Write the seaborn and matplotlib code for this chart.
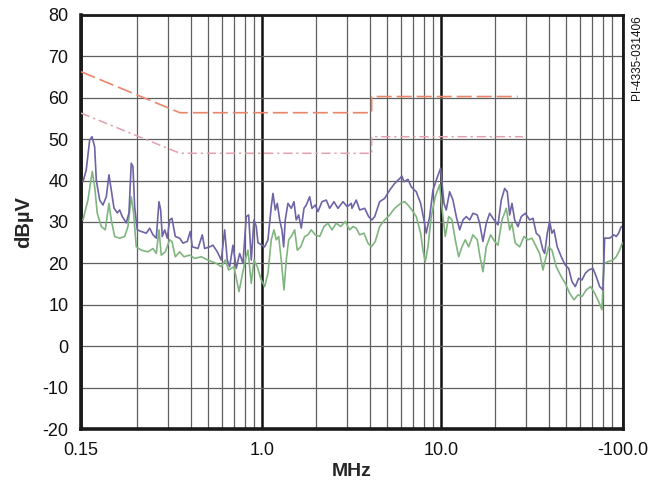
import numpy as np
import pandas as pd
import matplotlib
matplotlib.use("Agg")
import matplotlib.pyplot as plt
import seaborn as sns
from matplotlib.ticker import FixedLocator, NullFormatter

# ---------------- data ----------------
x_min, x_max = 0.0975, 104.0
x_tick_pos = [0.0975, 1.0, 10.0, 104.0]
x_tick_labels = ["0.15", "1.0", "10.0", "-100.0"]
y_ticks = [-20, -10, 0, 10, 20, 30, 40, 50, 60, 70, 80]

# limit lines (MHz, dBuV)
qp_f = [0.0975, 0.348, 4.10, 4.10, 26.9]
qp_db = [66.3, 56.4, 56.4, 60.3, 60.3]
av_f = [0.0975, 0.348, 4.10, 4.10, 28.7]
av_db = [56.3, 46.6, 46.6, 50.6, 50.6]

# peak (purple) trace
purple_f = [0.100, 0.1043, 0.1090, 0.1123, 0.1162, 0.1187, 0.1240, 0.1293, 0.1350, 0.1397,
            0.1439, 0.1490, 0.1554, 0.1603, 0.1658, 0.1745, 0.1807, 0.1861, 0.1902, 0.1944,
            0.2011, 0.2117, 0.2258, 0.2359, 0.2461, 0.2567, 0.2658, 0.2717, 0.2773, 0.2861,
            0.2958, 0.3051, 0.3142, 0.3279, 0.3469, 0.3620, 0.3826, 0.3976, 0.4080, 0.4390,
            0.4640, 0.4785, 0.5103, 0.5325, 0.5628, 0.5924, 0.6190, 0.6399, 0.6600, 0.6887,
            0.7185, 0.7506, 0.7832, 0.8172, 0.8426, 0.8714, 0.9022, 0.9293, 0.9499, 0.9910,
            1.0354, 1.080, 1.127, 1.152, 1.187, 1.218, 1.256, 1.293, 1.322, 1.349,
            1.397, 1.458, 1.509, 1.554, 1.603, 1.658, 1.717, 1.768, 1.847, 1.902,
            1.986, 2.055, 2.164, 2.287, 2.389, 2.525, 2.658, 2.835, 2.996, 3.154,
            3.183, 3.364, 3.515, 3.748, 3.945, 4.117, 4.263, 4.545, 4.848, 5.169,
            5.511, 5.878, 6.054, 6.212, 6.539, 6.824, 7.278, 7.701, 8.035, 8.277,
            8.647, 9.022, 9.413, 9.961, 10.39, 10.70, 11.18, 11.67, 12.18, 12.72,
            13.27, 13.85, 14.47, 15.10, 15.95, 16.45, 17.16, 17.91, 18.71, 19.52,
            20.82, 21.73, 22.70, 23.47, 24.20, 24.93, 25.81, 26.93, 28.09, 29.58,
            31.30, 32.66, 34.07, 35.60, 37.14, 37.96, 39.26, 40.49, 41.70, 42.79,
            44.64, 46.99, 49.48, 51.69, 53.94, 56.27, 58.80, 61.36, 64.02, 66.88,
            70.69, 73.75, 77.02, 80.35, 82.13, 87.59, 92.58, 95.35, 98.33, 101.7]
purple_db = [39.7, 42.6, 49.8, 50.6, 48.2, 40.1, 35.3, 34.1, 36.1, 41.4,
             37.7, 33.4, 32.2, 32.9, 31.3, 29.8, 32.2, 44.2, 43.4, 33.7,
             28.1, 27.7, 27.3, 28.5, 26.9, 26.1, 34.9, 32.9, 26.5, 28.1,
             26.1, 30.5, 30.9, 26.5, 26.1, 24.9, 25.3, 27.7, 24.0, 23.6,
             26.9, 23.6, 24.0, 24.4, 22.8, 20.8, 28.1, 20.8, 19.2, 24.4,
             18.8, 22.4, 20.0, 31.3, 31.7, 20.8, 30.5, 28.9, 25.0, 24.5,
             24.0, 25.7, 33.7, 36.9, 32.9, 34.5, 30.5, 28.1, 24.0, 30.5,
             34.5, 33.3, 34.9, 30.5, 31.7, 28.5, 33.3, 34.1, 36.1, 33.3,
             34.1, 32.5, 34.9, 35.3, 33.3, 34.9, 33.3, 34.9, 33.7, 34.5,
             33.3, 35.3, 32.9, 33.3, 31.3, 30.5, 31.3, 34.9, 35.7, 37.7,
             39.3, 40.5, 41.1, 39.7, 40.3, 38.5, 37.3, 34.5, 30.5, 27.3,
             31.3, 37.7, 40.1, 43.0, 34.5, 32.9, 37.3, 35.3, 31.3, 28.1,
             30.5, 31.3, 30.5, 32.1, 31.7, 29.7, 25.3, 29.7, 32.1, 30.9,
             29.3, 35.3, 38.1, 37.3, 31.7, 34.5, 30.5, 28.9, 31.3, 32.1,
             30.5, 30.9, 27.3, 26.5, 23.2, 22.4, 27.3, 30.1, 27.3, 28.1,
             24.0, 21.6, 19.6, 18.8, 15.6, 14.4, 16.4, 16.0, 17.6, 18.4,
             18.8, 16.8, 14.4, 13.6, 26.1, 26.1, 26.9, 26.5, 27.3, 28.9]

# average (green) trace
green_f = [0.100, 0.1066, 0.1127, 0.1162, 0.1202, 0.1266, 0.1332, 0.1397, 0.1439, 0.1503,
           0.1603, 0.1710, 0.1784, 0.1861, 0.1919, 0.1985, 0.2117, 0.2308, 0.2461, 0.2567,
           0.2658, 0.2738, 0.2884, 0.3051, 0.3142, 0.3279, 0.3469, 0.3666, 0.3946, 0.4207,
           0.4580, 0.4993, 0.5556, 0.5924, 0.6237, 0.6516, 0.6976, 0.7439, 0.7731, 0.8067,
           0.8352, 0.8714, 0.9022, 0.9413, 0.9910, 1.0354, 1.080, 1.127, 1.167, 1.202,
           1.240, 1.282, 1.327, 1.367, 1.410, 1.458, 1.523, 1.575, 1.645, 1.732,
           1.807, 1.885, 1.986, 2.101, 2.221, 2.337, 2.461, 2.601, 2.753, 2.920,
           3.090, 3.224, 3.364, 3.515, 3.714, 3.910, 4.080, 4.295, 4.545, 4.848,
           5.169, 5.511, 5.954, 6.268, 6.539, 6.886, 7.278, 7.701, 7.932, 8.171,
           8.460, 8.826, 9.294, 9.833, 10.26, 10.57, 11.04, 11.52, 12.02, 12.56,
           13.10, 13.67, 14.28, 15.10, 15.95, 16.52, 17.16, 17.91, 18.95, 19.95,
           20.82, 21.92, 23.17, 24.20, 24.93, 26.01, 27.53, 29.09, 30.62, 32.25,
           34.07, 35.60, 37.14, 38.25, 39.97, 41.70, 44.07, 46.99, 49.48, 52.36,
           55.34, 58.27, 61.36, 64.85, 68.63, 72.25, 76.03, 79.33, 81.40, 85.70,
           91.40, 95.35, 99.6, 103.0]
green_db = [30.5, 35.3, 42.2, 38.6, 32.1, 28.9, 28.1, 34.5, 30.5, 26.5,
            26.1, 26.5, 28.9, 36.1, 32.1, 24.0, 23.2, 22.8, 23.6, 22.4,
            28.1, 22.0, 22.8, 25.7, 25.3, 21.6, 22.8, 21.6, 22.0, 21.2,
            21.6, 20.8, 20.0, 19.2, 20.8, 18.4, 19.2, 13.2, 16.8, 20.8,
            23.2, 15.2, 20.8, 19.2, 16.0, 14.4, 17.6, 25.7, 28.1, 25.7,
            26.5, 20.8, 13.6, 20.8, 25.7, 26.5, 28.1, 23.2, 24.0, 26.5,
            26.9, 28.1, 26.9, 26.5, 28.9, 29.7, 28.1, 29.7, 28.9, 30.1,
            28.1, 28.9, 28.5, 26.9, 27.3, 24.9, 24.0, 25.3, 28.9, 30.5,
            31.7, 33.3, 34.5, 34.9, 34.1, 32.9, 31.3, 27.3, 23.2, 20.4,
            24.0, 31.3, 36.1, 39.0, 31.3, 26.5, 31.3, 30.5, 25.7, 21.6,
            24.0, 25.7, 24.0, 26.9, 25.7, 21.6, 18.0, 24.0, 26.9, 25.3,
            24.4, 30.5, 33.3, 28.1, 29.7, 24.9, 24.0, 26.5, 25.7, 26.1,
            24.0, 22.4, 18.4, 20.8, 24.0, 23.2, 19.2, 16.8, 15.2, 12.8,
            11.2, 12.4, 12.0, 13.6, 14.4, 12.8, 10.8, 8.8, 20.0, 20.4,
            20.8, 21.6, 23.2, 24.9]

# ---------------- styling ----------------
sns.set_style("white")
plt.rcParams["font.family"] = ["Liberation Sans", "DejaVu Sans"]

fig = plt.figure(figsize=(6.54, 4.90), dpi=100)
ax = fig.add_axes([81 / 654, 61 / 490, 542 / 654, 414 / 490])

df_p = pd.DataFrame({"f": purple_f, "db": purple_db})
df_g = pd.DataFrame({"f": green_f, "db": green_db})
df_qp = pd.DataFrame({"f": qp_f, "db": qp_db})
df_av = pd.DataFrame({"f": av_f, "db": av_db})

sns.lineplot(data=df_qp, x="f", y="db", ax=ax, estimator=None, sort=False,
             color="#E9866A", lw=1.2, zorder=4).lines[-1].set_dashes([9, 3])
sns.lineplot(data=df_av, x="f", y="db", ax=ax, estimator=None, sort=False,
             color="#E4A0AE", lw=1.1, zorder=4).lines[-1].set_dashes([6, 2.5, 1.5, 2.5])
sns.lineplot(data=df_g, x="f", y="db", ax=ax, estimator=None, sort=False,
             color="#80B57F", lw=1.2, zorder=5)
sns.lineplot(data=df_p, x="f", y="db", ax=ax, estimator=None, sort=False,
             color="#6E64A6", lw=1.2, zorder=6)

ax.set_xscale("log")
ax.set_xlim(x_min, x_max)
ax.set_ylim(-20, 80)

minor_pos = [m * d for d in (0.1, 1.0, 10.0) for m in range(2, 10)]
ax.xaxis.set_major_locator(FixedLocator(x_tick_pos))
ax.set_xticklabels(x_tick_labels)
ax.xaxis.set_minor_locator(FixedLocator(minor_pos))
ax.xaxis.set_minor_formatter(NullFormatter())
ax.set_yticks(y_ticks)
ax.set_yticklabels([str(v) for v in y_ticks])

ax.grid(True, which="minor", axis="x", color="#5f5f5f", lw=0.9)
ax.grid(True, which="major", axis="x", color="#111111", lw=1.8)
ax.grid(True, which="major", axis="y", color="#5f5f5f", lw=0.9)
ax.set_axisbelow(True)

ax.tick_params(axis="both", which="both", length=0, labelsize=13, colors="#111111")
ax.tick_params(axis="x", pad=9)
ax.tick_params(axis="y", pad=9)

for side, lw in (("left", 2.6), ("bottom", 2.6), ("top", 2.0), ("right", 2.0)):
    ax.spines[side].set_visible(True)
    ax.spines[side].set_color("#1a1a1a")
    ax.spines[side].set_linewidth(lw)

ax.set_xlabel("MHz", fontsize=14, fontweight="bold", labelpad=3)
ax.set_ylabel("dB\u00b5V", fontsize=14.5, fontweight="bold", labelpad=7)

fig.text(637 / 654, 1 - 15 / 490, "PI-4335-031406", rotation=90, fontsize=8.5,
         ha="center", va="top", color="#111111")

fig.savefig("out.png", dpi=100)
